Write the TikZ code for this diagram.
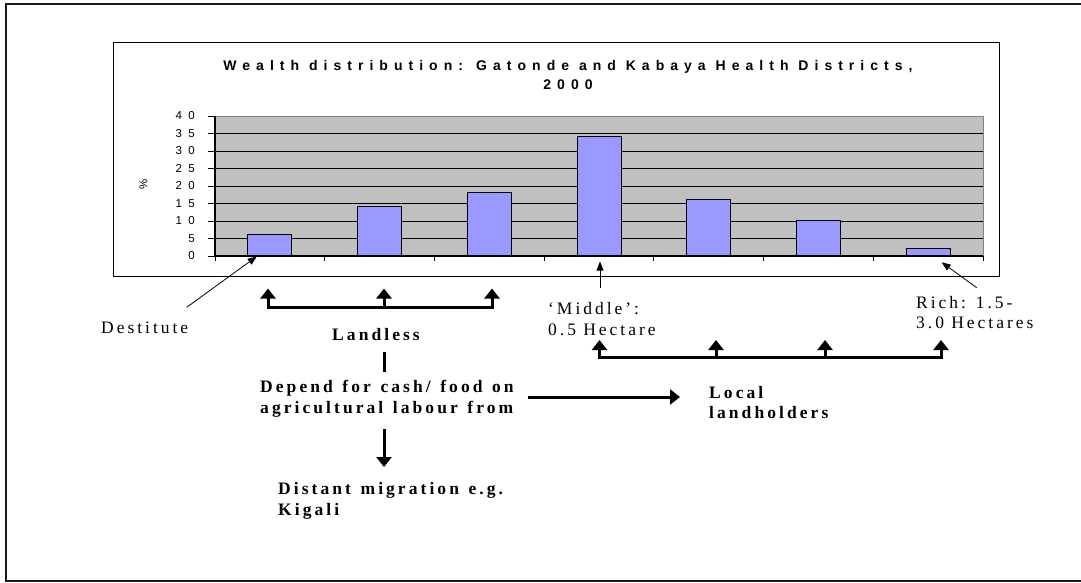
\documentclass[tikz,border=0pt]{standalone}
\usepackage{fontspec}
\setmainfont{Liberation Serif}
\newfontfamily\lowf[LetterSpace=17]{Liberation Serif}
\newfontfamily\lowbf[LetterSpace=17.5]{Liberation Serif Bold}
\newfontfamily\titlef[LetterSpace=43]{Liberation Sans}
\newfontfamily\axisf[LetterSpace=55]{Liberation Sans}
\newcommand\myboldspacing{\spaceskip 9.6pt plus 1pt minus 1pt\relax}
\usetikzlibrary{arrows.meta}
\definecolor{barblue}{HTML}{9999FF}
\definecolor{plotgray}{HTML}{C0C0C0}
\definecolor{bordergray}{HTML}{808080}
\tikzset{
  thickline/.style={line width=3pt},
  thickarrow/.style={line width=3pt,-{Triangle[width=15pt,length=10pt]}},
  thinarrow/.style={line width=0.8pt,-{Triangle[width=7pt,length=9pt]}},
  barbox/.style={draw=black,line width=1pt,fill=barblue,inner sep=0pt,minimum width=44pt,anchor=south},
  lowtxt/.style={font=\lowf\fontsize{17.5}{20.5}\selectfont,inner sep=0pt,align=left,anchor=base west},
  lowbold/.style={lowtxt,font={\lowbf\fontsize{17.5}{20.5}\selectfont\myboldspacing}},
  ylab/.style={font=\axisf\fontsize{11.5}{13}\selectfont,inner sep=0pt,anchor=east},
}
\begin{document}
\begin{tikzpicture}[x=1pt,y=-1pt]
\useasboundingbox (0,0) rectangle (1081,582);
% outer frame
\draw[line width=2pt,black!90] (1081,4) -- (5.5,4) -- (5.5,580.5) -- (1081,580.5);
% chart frame
\node[draw=black,line width=1pt,fill=white,inner sep=0pt,minimum width=886pt,minimum height=234pt,anchor=north west] (chart) at (112.7,41.7) {};
% title (base anchor = last line)
\node[font=\titlef\bfseries\fontsize{14}{19}\selectfont,align=center,inner sep=0pt,anchor=base] (title) at (568,89.5) {Wealth distribution: Gatonde and Kabaya Health Districts,\\2000};
% plot area
\node[fill=plotgray,draw=bordergray,line width=1pt,inner sep=0pt,minimum width=768pt,minimum height=140pt,anchor=north west] (plot) at (215,116) {};
\foreach \v in {5,10,...,35} {\draw[line width=0.9pt,black] (215,256-3.5*\v) -- (983,256-3.5*\v);}
% bars
\foreach \i/\v in {1/6,2/14,3/18,4/34,5/16,6/10,7/2} {
  \node[barbox,minimum height=3.5*\v pt] (bar\i) at (215+109.714*\i-54.857,256) {};
}
% axes
\draw[line width=1.2pt,black] (215,116) -- (215,256) -- (983,256);
\foreach \v in {0,5,...,40} {
  \draw[line width=0.9pt] (208,256-3.5*\v) -- (215,256-3.5*\v);
  \node[ylab] (yl\v) at (195,256-3.5*\v) {\v};
}
\foreach \k in {0,...,7} {\draw[line width=0.9pt] (215+109.714*\k,256) -- (215+109.714*\k,260.5);}
\node[font=\axisf\fontsize{11.5}{13}\selectfont,rotate=90,inner sep=0pt] (pct) at (143.5,184) {\%};
% lower texts (base anchor = last line)
\node[lowtxt] (destitute) at (101,333.5) {Destitute};
\node[lowbold] (landless) at (332,340) {Landless};
\node[lowbold] (depend) at (260,413) {Depend for cash/ food on\\agricultural labour from};
\node[lowbold] (distant) at (278,515) {Distant migration e.g.\\Kigali};
\node[lowtxt] (middle) at (548,335) {‘Middle’:\\0.5 Hectare};
\node[lowbold] (local) at (709,418.5) {Local\\landholders};
\node[lowtxt] (rich) at (916,328.5) {Rich: 1.5-\\3.0 Hectares};
% thin pointers
\coordinate (dtail) at (186.7,307.3); \coordinate (dtip) at (256.7,256.5);
\coordinate (mtail) at (600,288); \coordinate (mtip) at (600,261.5);
\coordinate (rtail) at (976.7,287.7); \coordinate (rtip) at (941.7,262.3);
\draw[thinarrow] (dtail) -- (dtip);
\draw[thinarrow] (mtail) -- (mtip);
\draw[thinarrow] (rtail) -- (rtip);
% landless bracket
\coordinate (lb1) at (268,307); \coordinate (lb2) at (384,307); \coordinate (lb3) at (492,307);
\coordinate (lt1) at (268,288.5); \coordinate (lt2) at (384,288.5); \coordinate (lt3) at (492,288.5);
\draw[thickline,line cap=rect] (lb1) -- (lb3);
\draw[thickarrow] (lb1) -- (lt1);
\draw[thickarrow] (lb2) -- (lt2);
\draw[thickarrow] (lb3) -- (lt3);
% stub landless -> depend
\coordinate (s1) at (384,352); \coordinate (s2) at (384,372);
\draw[thickline] (s1) -- (s2);
% depend -> local
\coordinate (dr) at (528,397); \coordinate (ll) at (680,397);
\draw[thickarrow] (dr) -- (ll);
% depend -> distant
\coordinate (dd1) at (384,429); \coordinate (dd2) at (384,467);
\draw[thickarrow] (dd1) -- (dd2);
% local bracket
\coordinate (rb1) at (599.5,357.5); \coordinate (rb2) at (716,357.5); \coordinate (rb3) at (825,357.5); \coordinate (rb4) at (941,357.5);
\coordinate (rt1) at (599.5,340); \coordinate (rt2) at (716,340); \coordinate (rt3) at (825,340); \coordinate (rt4) at (941,340);
\draw[thickline,line cap=rect] (rb1) -- (rb4);
\draw[thickarrow] (rb1) -- (rt1);
\draw[thickarrow] (rb2) -- (rt2);
\draw[thickarrow] (rb3) -- (rt3);
\draw[thickarrow] (rb4) -- (rt4);
\end{tikzpicture}
\end{document}
